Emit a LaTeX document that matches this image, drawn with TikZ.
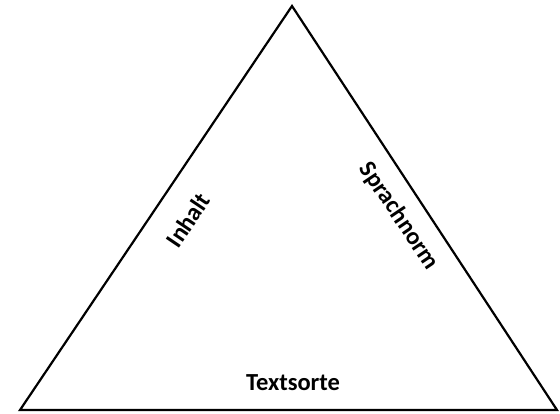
\documentclass[tikz,border=0pt]{standalone}
\usepackage{fontspec}
\setmainfont{Carlito}
\begin{document}
\begin{tikzpicture}[x=1pt,y=-1pt,
  edge/.style={draw=black,line width=2.2pt,line join=miter},
  lbl/.style={font=\bfseries\fontsize{24.5}{27}\selectfont,inner sep=0pt}]
\useasboundingbox (0,0) rectangle (560,414);
\coordinate (top) at (292,6);
\coordinate (bl) at (20,410);
\coordinate (br) at (557,410);
\draw[edge] (bl) -- (top) -- (br) -- cycle;
\node[lbl,rotate=56] (inhalt) at (188,220) {Inhalt};
\node[lbl,rotate=-56] (sprach) at (399,216) {Sprachnorm};
\node[lbl] (textsorte) at (293,383) {Textsorte};
\end{tikzpicture}
\end{document}
